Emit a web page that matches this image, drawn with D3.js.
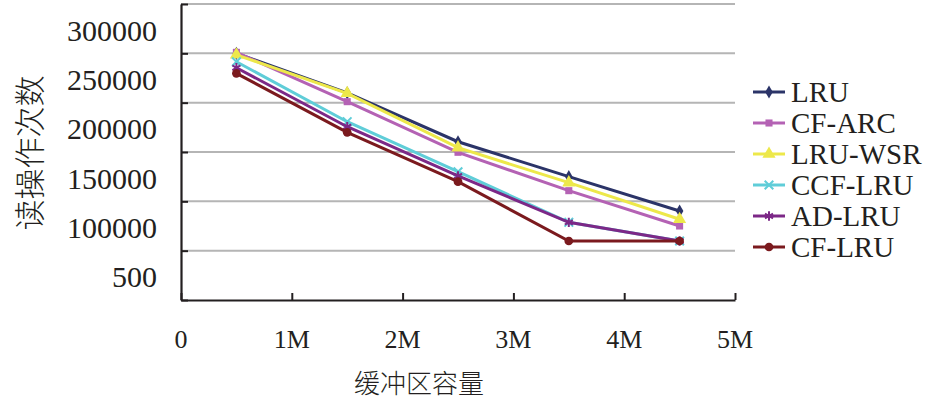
<!DOCTYPE html>
<html lang="zh">
<head>
<meta charset="utf-8">
<title>读操作次数</title>
<script src="https://d3js.org/d3.v7.min.js"></script>
<style>
  body { margin: 0; background: #fff; }
  svg text { font-family: "Times New Roman", "Liberation Serif", Tinos, "DejaVu Serif", serif; fill: #231f20; }
  svg text.cjk { font-family: "Noto Sans CJK SC", sans-serif; font-weight: 300; }
</style>
</head>
<body>
<script>
// 数据
var bufferSizes = [0.5, 1.5, 2.5, 3.5, 4.5];          // 缓冲区容量 (M)
var seriesNames = ["LRU", "CF-ARC", "LRU-WSR", "CCF-LRU", "AD-LRU", "CF-LRU"];
var lru    = [250000, 210000, 160400, 125000, 90200];
var cfArc  = [251000, 201000, 149700, 110800, 75000];
var lruWsr = [248500, 209500, 154400, 118900, 81800];
var ccfLru = [241500, 180700, 130000, 78700, 59800];
var adLru  = [235400, 175600, 125700, 78700, 59800];
var cfLru  = [229700, 169900, 119900, 59800, 59800];
var xTicks = [0, 1, 2, 3, 4, 5];
var xTickLabels = ["0", "1M", "2M", "3M", "4M", "5M"];
var yGrid = [0, 50000, 100000, 150000, 200000, 250000, 300000];
var yTickLabels = ["300000", "250000", "200000", "150000", "100000", "500"];

var w = 946, h = 400;
var colors = ["#2b3468", "#b462b4", "#ede84a", "#5fcdd8", "#7c2887", "#7b1a1e"];
var symbols = [d3.symbolDiamond, d3.symbolSquare, d3.symbolTriangle, d3.symbolTimes, d3.symbolAsterisk, d3.symbolCircle];
var symSize = [50, 50, 75, 50, 60, 60];
var filled = [true, true, true, false, false, true];
var allValues = [lru, cfArc, lruWsr, ccfLru, adLru, cfLru];

var svg = d3.select("body").append("svg").attr("width", w).attr("height", h);

var x = d3.scaleLinear().domain([0, 5]).range([181, 735]);
var y = d3.scaleLinear().domain([0, 300000]).range([300, 4]);

// 网格线
svg.selectAll("line.grid")
  .data(yGrid.slice(1))
  .enter().append("line")
  .attr("class", "grid")
  .attr("x1", x(0)).attr("x2", x(5))
  .attr("y1", function(d) { return y(d); })
  .attr("y2", function(d) { return y(d); })
  .attr("stroke", "#b5b5b5").attr("stroke-width", 2);

// 坐标轴
var xAxis = d3.axisBottom(x).tickValues(xTicks).tickSizeInner(-7).tickSizeOuter(0).tickFormat("");
var gx = svg.append("g").attr("transform", "translate(0," + y(0) + ")").call(xAxis);
var yAxis = d3.axisLeft(y).tickValues(yGrid).tickSizeInner(-7).tickSizeOuter(0).tickFormat("");
var gy = svg.append("g").attr("transform", "translate(" + x(0) + ",0)").call(yAxis);
[gx, gy].forEach(function(g) {
  g.select(".domain").attr("stroke", "#231f20").attr("stroke-width", 2.2);
  g.selectAll(".tick line").attr("stroke", "#231f20").attr("stroke-width", 2);
});

// x 刻度标签
svg.selectAll("text.xlab")
  .data(xTicks)
  .enter().append("text")
  .attr("x", function(d) { return x(d); })
  .attr("y", 348)
  .attr("text-anchor", "middle")
  .attr("font-size", 26)
  .text(function(d, i) { return xTickLabels[i]; });

// y 刻度标签 (位于网格线之间)
svg.selectAll("text.ylab")
  .data(yTickLabels)
  .enter().append("text")
  .attr("x", 157)
  .attr("y", function(d, i) { return y(275000 - 50000 * i) + 12; })
  .attr("text-anchor", "end")
  .attr("font-size", 30)
  .text(function(d) { return d; });

// 轴标题
svg.append("text").attr("class", "cjk")
  .attr("x", 419).attr("y", 393)
  .attr("text-anchor", "middle").attr("font-size", 26)
  .text("缓冲区容量");
svg.append("text").attr("class", "cjk")
  .attr("transform", "translate(41,153) rotate(-90)")
  .attr("text-anchor", "middle").attr("font-size", 31)
  .text("读操作次数");

// 折线
var line = d3.line()
  .x(function(d, i) { return x(bufferSizes[i]); })
  .y(function(d) { return y(d); });

allValues.forEach(function(vals, s) {
  var g = svg.append("g");
  g.append("path")
    .attr("d", line(vals))
    .attr("fill", "none")
    .attr("stroke", colors[s])
    .attr("stroke-width", 3);
  g.selectAll("path.mark")
    .data(vals)
    .enter().append("path")
    .attr("class", "mark")
    .attr("transform", function(d, i) { return "translate(" + x(bufferSizes[i]) + "," + y(d) + ")"; })
    .attr("d", d3.symbol().type(symbols[s]).size(symSize[s]))
    .attr("fill", filled[s] ? colors[s] : "none")
    .attr("stroke", colors[s])
    .attr("stroke-width", filled[s] ? 0 : 2);
});

// 图例
var legend = svg.append("g");
seriesNames.forEach(function(name, s) {
  var ly = 92 + s * 31;
  legend.append("line")
    .attr("x1", 753).attr("x2", 785)
    .attr("y1", ly).attr("y2", ly)
    .attr("stroke", colors[s]).attr("stroke-width", 3);
  legend.append("path")
    .attr("transform", "translate(769," + ly + ")")
    .attr("d", d3.symbol().type(symbols[s]).size(symSize[s]))
    .attr("fill", filled[s] ? colors[s] : "none")
    .attr("stroke", colors[s])
    .attr("stroke-width", filled[s] ? 0 : 2);
  legend.append("text")
    .attr("x", 791).attr("y", ly + 10)
    .attr("font-size", 29)
    .text(name);
});
</script>
</body>
</html>
